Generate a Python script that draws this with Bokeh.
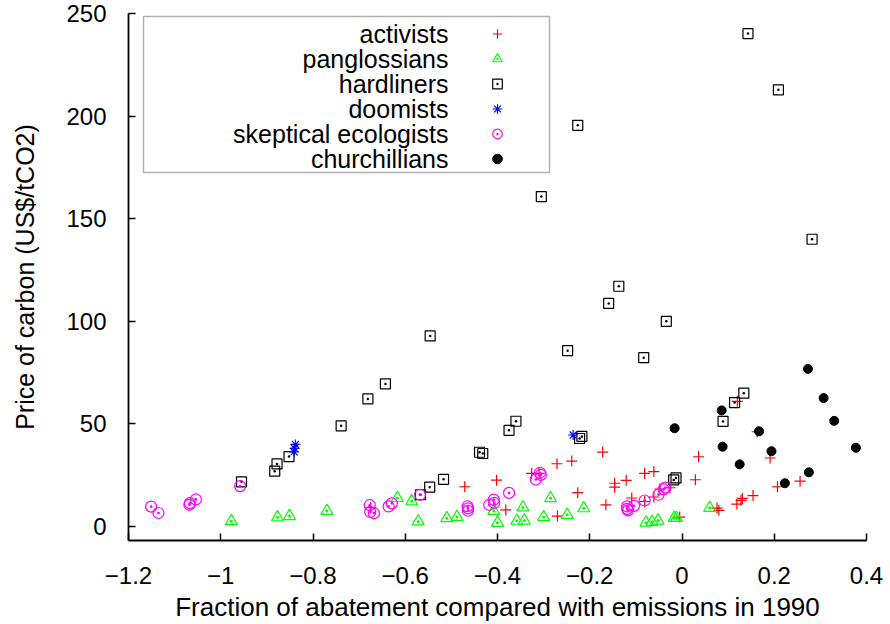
from bokeh.plotting import figure
from bokeh.models import Range1d, FixedTicker, Legend, LegendItem, Label, BoxAnnotation
from bokeh.core.properties import value
from bokeh.embed import file_html
from bokeh.resources import INLINE

# ---------------- data ----------------
x_title = "Fraction of abatement compared with emissions in 1990"
y_title = "Price of carbon (US$/tCO2)"

x_ticks = [-1.2, -1.0, -0.8, -0.6, -0.4, -0.2, 0.0, 0.2, 0.4]
x_tick_labels = ["\u22121.2", "\u22121", "\u22120.8", "\u22120.6", "\u22120.4", "\u22120.2", "0", "0.2", "0.4"]
y_ticks = [0, 50, 100, 150, 200, 250]

series_names = ["activists", "panglossians", "hardliners", "doomists",
                "skeptical ecologists", "churchillians"]

activists_x = [-0.675, -0.471, -0.402, -0.382, -0.326, -0.310, -0.271, -0.239, -0.226, -0.270,
               -0.172, 0.036, -0.081, -0.061, -0.121, -0.146, -0.146, 0.029, -0.109, -0.061,
               -0.048, -0.026, -0.165, -0.005, 0.076, 0.080, 0.119, 0.128, 0.131, 0.154,
               0.207, 0.256, 0.191, 0.163, 0.120, -0.081]
activists_y = [9.2, 19.4, 22.6, 8.1, 25.9, 25.9, 30.6, 31.9, 16.5, 5.1,
               36.3, 34.0, 25.9, 26.8, 22.5, 21.1, 19.2, 22.8, 13.9, 14.4,
               18.3, 18.9, 10.6, 4.6, 9.0, 7.9, 10.9, 12.8, 13.7, 15.1,
               19.4, 22.1, 33.4, 46.2, 61.0, 12.2]

panglossians_x = [-0.977, -0.877, -0.851, -0.770, -0.617, -0.586, -0.572, -0.510, -0.488, -0.408,
                  -0.400, -0.358, -0.342, -0.345, -0.300, -0.285, -0.249, -0.213, -0.078, -0.065,
                  -0.052, -0.017, -0.012, 0.060]
panglossians_y = [2.6, 4.5, 5.1, 7.6, 13.9, 12.3, 2.5, 4.1, 4.7, 7.6,
                  1.8, 2.8, 2.9, 9.3, 4.6, 13.8, 5.7, 8.9, 1.9, 2.3,
                  2.9, 4.2, 4.2, 9.1]

hardliners_x = [0.143, 0.209, -0.226, -0.305, 0.282, -0.137, -0.159, -0.034, -0.546, -0.248,
                -0.083, -0.643, -0.681, 0.134, 0.114, 0.089, -0.360, -0.375, -0.739, -0.222,
                -0.217, -0.439, -0.432, -0.517, -0.547, -0.567, -0.013, -0.018, -0.955, -0.878,
                -0.883, -0.852]
hardliners_y = [240.2, 212.8, 195.5, 160.8, 140.0, 117.1, 108.7, 100.0, 92.9, 85.7,
                82.3, 69.5, 62.2, 65.0, 60.4, 51.2, 51.3, 46.9, 49.1, 42.9,
                43.9, 36.2, 35.6, 23.0, 19.2, 15.5, 23.7, 22.7, 21.8, 30.5,
                27.0, 34.1]

doomists_x = [-0.838, -0.840, -0.841, -0.236]
doomists_y = [40.0, 38.1, 36.4, 44.6]

ecologists_x = [-1.151, -1.135, -1.068, -1.067, -1.054, -0.958, -0.677, -0.676, -0.668, -0.636,
                -0.629, -0.568, -0.465, -0.464, -0.464, -0.418, -0.408, -0.407, -0.375, -0.308,
                -0.306, -0.317, -0.119, -0.117, -0.119, -0.104, -0.081, -0.051, -0.036, -0.040]
ecologists_y = [9.7, 6.6, 10.6, 11.4, 13.2, 19.7, 10.4, 7.1, 6.5, 9.8,
                11.3, 15.5, 9.9, 8.9, 7.7, 10.6, 13.1, 11.5, 16.4, 26.2,
                25.2, 22.9, 9.8, 7.9, 8.6, 10.1, 12.7, 15.5, 19.0, 18.1]

churchillians_x = [0.273, 0.307, 0.330, 0.377, 0.086, 0.088, -0.016, 0.167, 0.194, 0.125,
                   0.275, 0.223]
churchillians_y = [76.8, 62.6, 51.5, 38.4, 56.6, 38.9, 47.9, 46.4, 36.7, 30.3,
                   26.4, 21.1]

# ---------------- layout ----------------
W, H = 890, 624
BL, BR, BT, BB = 128, 24, 13, 81
FONT = "Liberation Sans"

p = figure(width=W, height=H, output_backend="svg", toolbar_location=None,
           x_range=Range1d(-1.2, 0.4), y_range=Range1d(-6.8, 250),
           min_border_left=BL, min_border_right=BR, min_border_top=BT, min_border_bottom=BB)
p.xgrid.visible = False
p.ygrid.visible = False
p.outline_line_color = None
p.background_fill_color = "white"
p.border_fill_color = "white"

for ax in (p.xaxis[0], p.yaxis[0]):
    ax.axis_line_color = "black"
    ax.axis_line_width = 1.8
    ax.major_tick_line_color = "black"
    ax.major_tick_line_width = 1.5
    ax.major_tick_in = 7
    ax.major_tick_out = 0
    ax.minor_tick_line_color = None
    ax.major_label_text_font = FONT
    ax.major_label_text_font_size = "24px"
    ax.major_label_text_color = "black"
    ax.axis_label_text_font = FONT
    ax.axis_label_text_font_style = "normal"
    ax.axis_label_text_color = "black"

p.xaxis.axis_label_text_font_size = "26px"
p.yaxis.axis_label_text_font_size = "25px"
p.xaxis.ticker = FixedTicker(ticks=x_ticks)
p.xaxis.major_label_overrides = dict(zip(x_ticks, x_tick_labels))
p.yaxis.ticker = FixedTicker(ticks=y_ticks)
p.xaxis.axis_label = x_title
p.yaxis.axis_label = y_title
p.xaxis.major_label_standoff = 26
p.yaxis.major_label_standoff = 22
p.xaxis.axis_label_standoff = 5
p.yaxis.axis_label_standoff = 24

r_act = p.scatter(activists_x, activists_y, marker="cross", size=11,
                  line_color="#ff0000", line_width=1.2)
r_pan = p.scatter(panglossians_x, panglossians_y, marker="triangle_dot", size=12,
                  line_color="#00ff00", fill_color=None, line_width=1.2)
r_hard = p.scatter(hardliners_x, hardliners_y, marker="square_dot", size=10,
                   line_color="black", fill_color=None, line_width=1.2)
r_doom = p.scatter(doomists_x, doomists_y, marker="asterisk", size=10,
                   line_color="#0000ff", line_width=1.2)
r_eco = p.scatter(ecologists_x, ecologists_y, marker="circle_dot", size=11,
                  line_color="#ff00ff", fill_color=None, line_width=1.2)
r_chu = p.scatter(churchillians_x, churchillians_y, marker="circle", size=9,
                  line_color="black", fill_color="black")
renderers = [r_act, r_pan, r_hard, r_doom, r_eco, r_chu]

# legend: gnuplot style (text right-aligned, symbol at the right)
frame_bottom = H - BB
row0, row_h = 36.5, 25
legend = Legend(items=[LegendItem(label=value(""), renderers=[r]) for r in renderers],
                location=(497 - 12 - BL, frame_bottom - (row0 - row_h / 2) - 6 * row_h),
                orientation="vertical", glyph_width=24, glyph_height=row_h,
                label_width=0, label_height=0, label_standoff=0, spacing=0, padding=0,
                border_line_color=None, background_fill_alpha=0,
                label_text_font_size="1px")
p.add_layout(legend)

for i, name in enumerate(series_names):
    cy = row0 + row_h * i
    p.add_layout(Label(x=448 - BL, y=frame_bottom - cy, x_units="screen", y_units="screen",
                       text=name, text_align="right", text_baseline="middle",
                       text_font=FONT, text_font_size="25px", text_color="black"))

p.add_layout(BoxAnnotation(left=143 - BL, right=549 - BL,
                           top=frame_bottom - 19, bottom=frame_bottom - 175,
                           left_units="screen", right_units="screen",
                           top_units="screen", bottom_units="screen",
                           fill_alpha=0, line_color="black", line_width=1.5))

open("out.html", "w").write(file_html(p, INLINE))
